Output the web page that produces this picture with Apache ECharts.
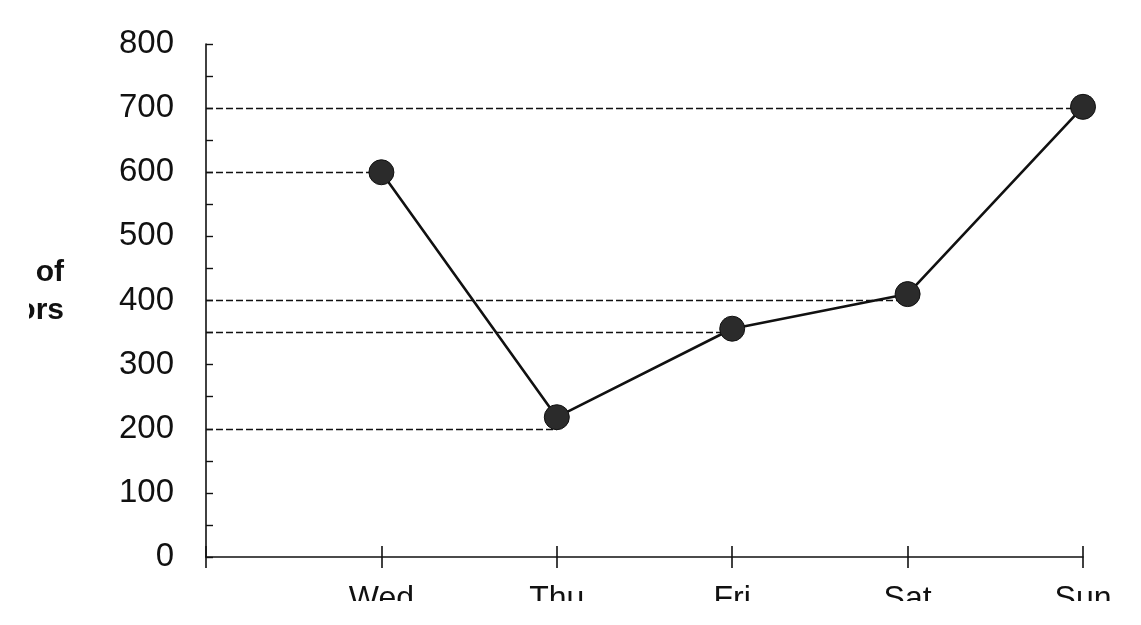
<!DOCTYPE html>
<html>
<head>
<meta charset="utf-8">
<script src="https://cdn.jsdelivr.net/npm/echarts@6/dist/echarts.min.js"></script>
<style>
html,body{margin:0;padding:0;background:#fff;}
#chart{width:1141px;height:625px;}
</style>
</head>
<body>
<div id="chart"></div>
<script>
const categories = ['', 'Wed', 'Thu', 'Fri', 'Sat', 'Sun'];
const visitors = [null, 600, 218, 356, 410, 702];
const guideValues = [700, 600, 400, 350, 200];
const guideDays = ['Sun', 'Wed', 'Sat', 'Fri', 'Thu'];
const yMin = 0, yMax = 800, yStep = 100;
const titleLines = ['Number of', 'Visitors'];

const chart = echarts.init(document.getElementById('chart'));
const FONT = '"Liberation Sans", Arial, sans-serif';

chart.setOption({
  animation: false,
  backgroundColor: '#fff',
  grid: { left: 206, right: 58, top: 44, bottom: 68, containLabel: false },
  xAxis: [{
    type: 'category',
    data: categories,
    boundaryGap: false,
    position: 'bottom',
    axisLine: { show: true, lineStyle: { color: '#111', width: 1.6 } },
    axisTick: { show: true, inside: false, length: 11, interval: 0, lineStyle: { color: '#111', width: 1.6 } },
    axisLabel: { show: true, interval: 0, margin: 26, fontSize: 32, color: '#111', fontFamily: FONT },
    splitLine: { show: false }
  }, {
    type: 'category',
    data: categories,
    boundaryGap: false,
    position: 'bottom',
    offset: 0,
    axisLine: { show: false },
    axisTick: { show: true, inside: true, length: 11, interval: 0, lineStyle: { color: '#111', width: 1.6 } },
    axisLabel: { show: false },
    splitLine: { show: false }
  }],
  yAxis: {
    type: 'value',
    min: yMin, max: yMax, interval: yStep,
    axisLine: { show: true, lineStyle: { color: '#111', width: 1.6 } },
    axisTick: { show: true, inside: true, length: 7, lineStyle: { color: '#111', width: 1.4 } },
    minorTick: { show: true, splitNumber: 2, length: 7, lineStyle: { color: '#111', width: 1.4 } },
    axisLabel: { margin: 32, fontSize: 33, color: '#111', fontFamily: FONT },
    splitLine: { show: false }
  },
  graphic: [
    { type: 'text', x: 64, y: 273, z: 50,
      style: { text: titleLines[0], fontSize: 30, fontWeight: 'bold', fontFamily: FONT, fill: '#111', align: 'right', verticalAlign: 'middle' } },
    { type: 'text', x: 64, y: 311, z: 50,
      style: { text: titleLines[1], fontSize: 30, fontWeight: 'bold', fontFamily: FONT, fill: '#111', align: 'right', verticalAlign: 'middle' } },
    { type: 'rect', z: 100, shape: { x: 0, y: 0, width: 29, height: 625 }, style: { fill: '#fff' } },
    { type: 'rect', z: 100, shape: { x: 0, y: 601, width: 1141, height: 30 }, style: { fill: '#fff' } }
  ],
  series: [{
    type: 'line',
    data: visitors,
    xAxisIndex: 0,
    connectNulls: false,
    symbol: 'circle',
    symbolSize: 25,
    itemStyle: { color: '#2b2b2b', borderColor: '#111', borderWidth: 1 },
    lineStyle: { color: '#111', width: 2.6 },
    z: 5,
    markLine: {
      silent: true,
      symbol: ['none', 'none'],
      label: { show: false },
      lineStyle: { type: [7, 3], color: '#111', width: 1.3 },
      data: guideValues.map((v, i) => [{ coord: [0, v] }, { coord: [guideDays[i], v] }])
    }
  }]
});
</script>
</body>
</html>
